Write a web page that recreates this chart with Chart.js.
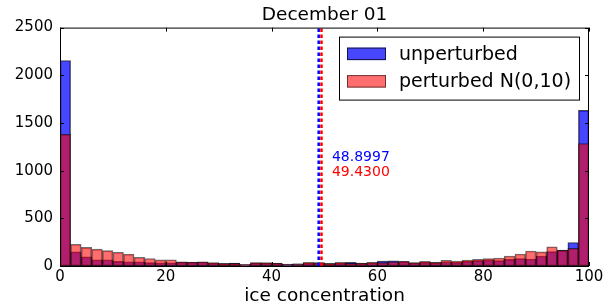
<!DOCTYPE html>
<html>
<head>
<meta charset="utf-8">
<script src="https://cdn.jsdelivr.net/npm/chart.js@4"></script>
<style>
  body { margin: 0; background: #fff; }
</style>
</head>
<body>
<canvas id="hist" width="613" height="305"></canvas>
<script>
// histogram bins: 50 bins of width 2 over 0..100
const binCenters = Array.from({ length: 50 }, (_, i) => 2 * i + 1);

const unperturbed = [
	2155, 148, 97, 66, 66, 49, 44, 44, 36, 34,
	34, 40, 38, 40, 30, 26, 30, 16, 32, 30,
	28, 18, 22, 30, 32, 26, 30, 38, 28, 34,
	52, 55, 46, 33, 38, 36, 42, 38, 49, 56,
	63, 56, 70, 77, 73, 105, 150, 167, 246, 1632
];
const perturbed = [
	1380, 228, 196, 177, 162, 144, 124, 92, 79, 64,
	66, 44, 42, 45, 35, 28, 28, 18, 35, 35,
	31, 21, 24, 38, 35, 28, 38, 28, 31, 38,
	35, 45, 49, 35, 49, 38, 59, 52, 63, 70,
	77, 84, 105, 126, 157, 148, 202, 165, 185, 1285
];

const meanUnperturbed = 48.8997;
const meanPerturbed = 49.4300;

const xTicks = [0, 20, 40, 60, 80, 100];
const yTicks = [0, 500, 1000, 1500, 2000, 2500];

const FONT = 'DejaVu Sans';
const BLUE = 'rgba(0,0,255,0.72)';
const RED = 'rgba(255,0,0,0.57)';

// frame + inward ticks on all four sides (matplotlib classic look)
const framePlugin = {
	id: 'frame',
	afterDatasetsDraw(chart) {
		const { ctx, chartArea: a, scales } = chart;
		ctx.save();
		ctx.strokeStyle = '#000';
		ctx.lineWidth = 1;
		ctx.strokeRect(a.left + 0.5, a.top + 0.5, a.right - a.left - 1, a.bottom - a.top);
		ctx.beginPath();
		xTicks.forEach(v => {
			const x = Math.round(scales.x.getPixelForValue(v)) + 0.5;
			ctx.moveTo(x, a.bottom); ctx.lineTo(x, a.bottom - 4);
			ctx.moveTo(x, a.top); ctx.lineTo(x, a.top + 4);
		});
		yTicks.forEach(v => {
			const y = Math.round(scales.y.getPixelForValue(v)) + 0.5;
			ctx.moveTo(a.left, y); ctx.lineTo(a.left + 4, y);
			ctx.moveTo(a.right, y); ctx.lineTo(a.right - 4, y);
		});
		ctx.stroke();
		ctx.restore();
	}
};

// mean value labels next to the dashed lines
const meanLabels = {
	id: 'meanLabels',
	afterDatasetsDraw(chart) {
		const { ctx, scales } = chart;
		ctx.save();
		ctx.font = '14px "' + FONT + '"';
		ctx.textAlign = 'left';
		ctx.textBaseline = 'alphabetic';
		const x = scales.x.getPixelForValue(51.4);
		ctx.fillStyle = '#0000ff';
		ctx.fillText(meanUnperturbed.toFixed(4), x, scales.y.getPixelForValue(1100));
		ctx.fillStyle = '#ff0000';
		ctx.fillText(meanPerturbed.toFixed(4), x, scales.y.getPixelForValue(945));
		ctx.restore();
	}
};

// boxed legend in the upper right of the axes
const boxLegend = {
	id: 'boxLegend',
	afterDraw(chart) {
		const { ctx, chartArea: a } = chart;
		const items = [
			{ text: 'unperturbed', fill: BLUE, edge: 'rgba(0,0,0,0.72)' },
			{ text: 'perturbed N(0,10)', fill: RED, edge: 'rgba(0,0,0,0.57)' }
		];
		const boxL = a.right - 250, boxT = a.top + 9, boxW = 240, boxH = 63;
		ctx.save();
		ctx.fillStyle = '#fff';
		ctx.fillRect(boxL, boxT, boxW, boxH);
		ctx.strokeStyle = '#000';
		ctx.lineWidth = 1;
		ctx.strokeRect(boxL + 0.5, boxT + 0.5, boxW, boxH);
		ctx.font = '19px "' + FONT + '"';
		ctx.textBaseline = 'middle';
		items.forEach((it, i) => {
			const cy = boxT + 17 + i * 27.5;
			ctx.fillStyle = it.fill;
			ctx.fillRect(boxL + 8, cy - 6, 39, 12.5);
			ctx.strokeStyle = it.edge;
			ctx.strokeRect(boxL + 8.5, cy - 5.5, 38, 11.5);
			ctx.fillStyle = '#000';
			ctx.fillText(it.text, boxL + 60, cy + 1);
		});
		ctx.restore();
	}
};

const meanLine = (value, color) => ({
	type: 'line',
	data: [{ x: value, y: 0 }, { x: value, y: 2500 }],
	borderColor: color,
	borderWidth: 2.5,
	borderDash: [3.5, 2.5],
	pointRadius: 0,
	order: -1
});

const config_hist = {
	type: 'bar',
	data: {
		datasets: [
			{
				label: 'unperturbed',
				data: binCenters.map((x, i) => ({ x: x, y: unperturbed[i] })),
				backgroundColor: BLUE,
				borderColor: 'rgba(0,0,0,0.72)',
				borderWidth: 1,
				borderSkipped: false,
				order: 2
			},
			{
				label: 'perturbed N(0,10)',
				data: binCenters.map((x, i) => ({ x: x, y: perturbed[i] })),
				backgroundColor: RED,
				borderColor: 'rgba(0,0,0,0.57)',
				borderWidth: 1,
				borderSkipped: false,
				order: 1
			},
			meanLine(meanUnperturbed, '#0000ff'),
			meanLine(meanPerturbed, '#ff0000')
		]
	},
	plugins: [framePlugin, meanLabels, boxLegend],
	options: {
		responsive: false,
		animation: false,
		grouped: false,
		barPercentage: 1,
		categoryPercentage: 1,
		layout: {
			padding: { left: 0, right: 24, top: 0, bottom: 0 }
		},
		plugins: {
			legend: { display: false },
			tooltip: { enabled: false },
			title: {
				display: true,
				fullSize: false,
				text: 'December 01',
				color: '#000',
				font: { family: FONT, size: 18.5, weight: 'normal', lineHeight: 1.2 },
				padding: { top: 4, bottom: 1.4 }
			}
		},
		scales: {
			x: {
				type: 'linear',
				min: 0,
				max: 100,
				offset: false,
				afterBuildTicks: (s) => { s.ticks = xTicks.map(v => ({ value: v })); },
				afterFit: (s) => { s.height = 39; },
				ticks: {
					color: '#000',
					font: { family: FONT, size: 15 },
					padding: 2,
					maxRotation: 0,
					callback: (v) => String(v)
				},
				grid: { display: false, offset: false, drawTicks: false },
				border: { display: false },
				title: {
					display: true,
					text: 'ice concentration',
					color: '#000',
					font: { family: FONT, size: 18.5, lineHeight: 1 },
					padding: 0
				}
			},
			y: {
				min: 0,
				max: 2500,
				afterBuildTicks: (s) => { s.ticks = yTicks.map(v => ({ value: v })); },
				afterFit: (s) => { s.width = 60; },
				ticks: {
					color: '#000',
					font: { family: FONT, size: 15 },
					padding: 7,
					callback: (v) => String(v)
				},
				grid: { display: false, drawTicks: false },
				border: { display: false }
			}
		}
	}
};

const hist = new Chart(document.getElementById('hist'), config_hist);
</script>
</body>
</html>
